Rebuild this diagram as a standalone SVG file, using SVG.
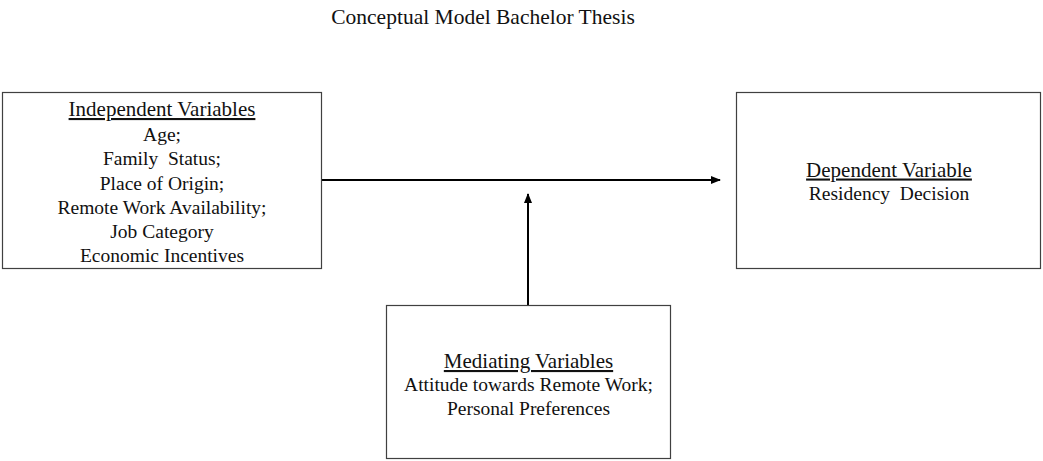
<svg xmlns="http://www.w3.org/2000/svg" width="1043" height="461" viewBox="0 0 1043 461">
<style>
.box{fill:#fff;stroke:#404040;stroke-width:1.2}
.t{font-family:"Liberation Serif","Times New Roman",serif;fill:#111;text-anchor:middle}
.h{font-size:21px;text-decoration:underline}
.b{font-size:19.5px}
.title{font-size:21.5px}
.c{stroke:#000;stroke-width:2;fill:none}
</style>
<defs>
<marker id="arr" viewBox="0 0 10 8" refX="9" refY="4" markerWidth="5" markerHeight="4" markerUnits="strokeWidth" orient="auto">
<path d="M0,0 L10,4 L0,8 Z" fill="#000"/>
</marker>
</defs>
<rect width="1043" height="461" fill="#fff"/>
<text class="t title" x="483" y="24">Conceptual Model Bachelor Thesis</text>
<g id="connectors">
<line class="c" x1="321" y1="180" x2="720" y2="180" marker-end="url(#arr)"/>
<line class="c" x1="528" y1="305" x2="528" y2="194" marker-end="url(#arr)"/>
</g>
<g id="independent">
<rect class="box" x="2.5" y="92.5" width="319" height="176"/>
<text class="t h" x="162" y="116">Independent Variables</text>
<text class="t b" x="162" y="140.5">Age;</text>
<text class="t b" x="162" y="165" xml:space="preserve">Family  Status;</text>
<text class="t b" x="162" y="189.5">Place of Origin;</text>
<text class="t b" x="162" y="214">Remote Work Availability;</text>
<text class="t b" x="162" y="238">Job Category</text>
<text class="t b" x="162" y="262">Economic Incentives</text>
</g>
<g id="dependent">
<rect class="box" x="736.5" y="92.5" width="304" height="176"/>
<text class="t h" x="889" y="176.5">Dependent Variable</text>
<text class="t b" x="889" y="200" xml:space="preserve">Residency  Decision</text>
</g>
<g id="mediating">
<rect class="box" x="386.5" y="305.5" width="284" height="153"/>
<text class="t h" x="528.5" y="368">Mediating Variables</text>
<text class="t b" x="528.5" y="390.5">Attitude towards Remote Work;</text>
<text class="t b" x="528.5" y="414.5">Personal Preferences</text>
</g>
</svg>
